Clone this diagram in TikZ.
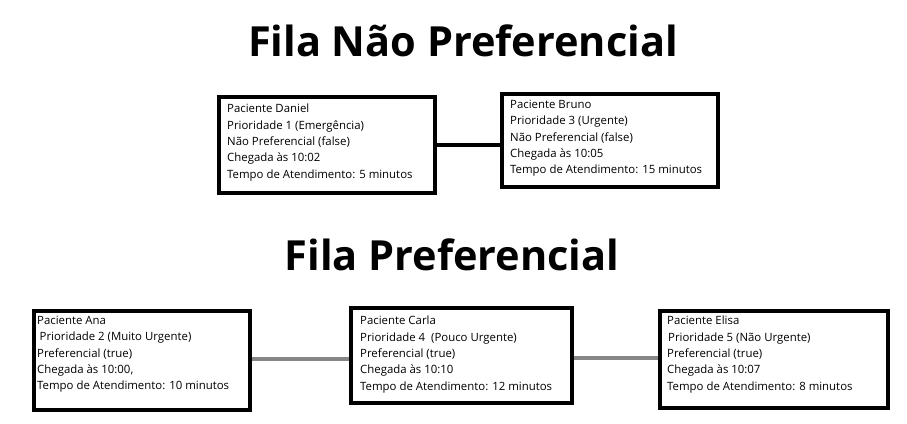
\documentclass[tikz,border=0pt]{standalone}
\usepackage{fontspec}
\setmainfont{Open Sans}
\usetikzlibrary{calc}
\begin{document}
\begin{tikzpicture}[x=1pt,y=-1pt,
  box/.style={draw=black,line width=4pt,fill=white,anchor=north west,inner sep=0pt},
  txt/.style={anchor=north west,inner sep=0pt,align=left,font=\fontsize{11.4}{16.3}\selectfont},
  title/.style={font=\fontsize{41.5}{44}\bfseries\selectfont,inner sep=0pt},
  blackline/.style={draw=black,line width=4pt},
  grayline/.style={draw=gray!95,line width=4pt}]
\useasboundingbox (0,0) rectangle (907,423);
\node[title] (t1) at (463,41) {Fila Não Preferencial};
\node[title] (t2) at (452,255) {Fila Preferencial};
% top row
\node[box,minimum width=216pt,minimum height=96pt] (daniel) at (217,95) {};
\node[box,minimum width=216pt,minimum height=93pt] (bruno) at (500,92) {};
\draw[blackline] (daniel.east) -- (daniel.east -| bruno.west);
\node[txt] (tdaniel) at (227,104) {Paciente Daniel\\Prioridade 1 (Emergência)\\Não Preferencial (false)\\Chegada às 10:02\\Tempo de Atendimento: 5 minutos};
\node[txt] (tbruno) at (510,100) {Paciente Bruno\\Prioridade 3 (Urgente)\\Não Preferencial (false)\\Chegada às 10:05\\Tempo de Atendimento: 15 minutos};
% bottom row
\node[box,minimum width=216pt,minimum height=99pt] (ana) at (32,309) {};
\node[box,minimum width=221pt,minimum height=95pt] (carla) at (349,306) {};
\node[box,minimum width=228pt,minimum height=97pt] (elisa) at (658,309) {};
\coordinate (c1) at ($(ana.east)+(0,-2)$);
\coordinate (c2) at ($(elisa.west)+(0,-2)$);
\draw[grayline] (c1) -- (c1 -| carla.west);
\draw[grayline] (carla.east |- c2) -- (c2);
\node[txt] (tana) at (37,316) {Paciente Ana\\\hspace{2.5pt}Prioridade 2 (Muito Urgente)\\Preferencial (true)\\Chegada às 10:00,\\Tempo de Atendimento: 10 minutos};
\node[txt] (tcarla) at (360,316) {Paciente Carla\\Prioridade 4 \ (Pouco Urgente)\\Preferencial (true)\\Chegada às 10:10\\Tempo de Atendimento: 12 minutos};
\node[txt] (telisa) at (667,316) {Paciente Elisa\\\hspace{1pt}Prioridade 5 (Não Urgente)\\Preferencial (true)\\Chegada às 10:07\\Tempo de Atendimento: 8 minutos};
\end{tikzpicture}
\end{document}
